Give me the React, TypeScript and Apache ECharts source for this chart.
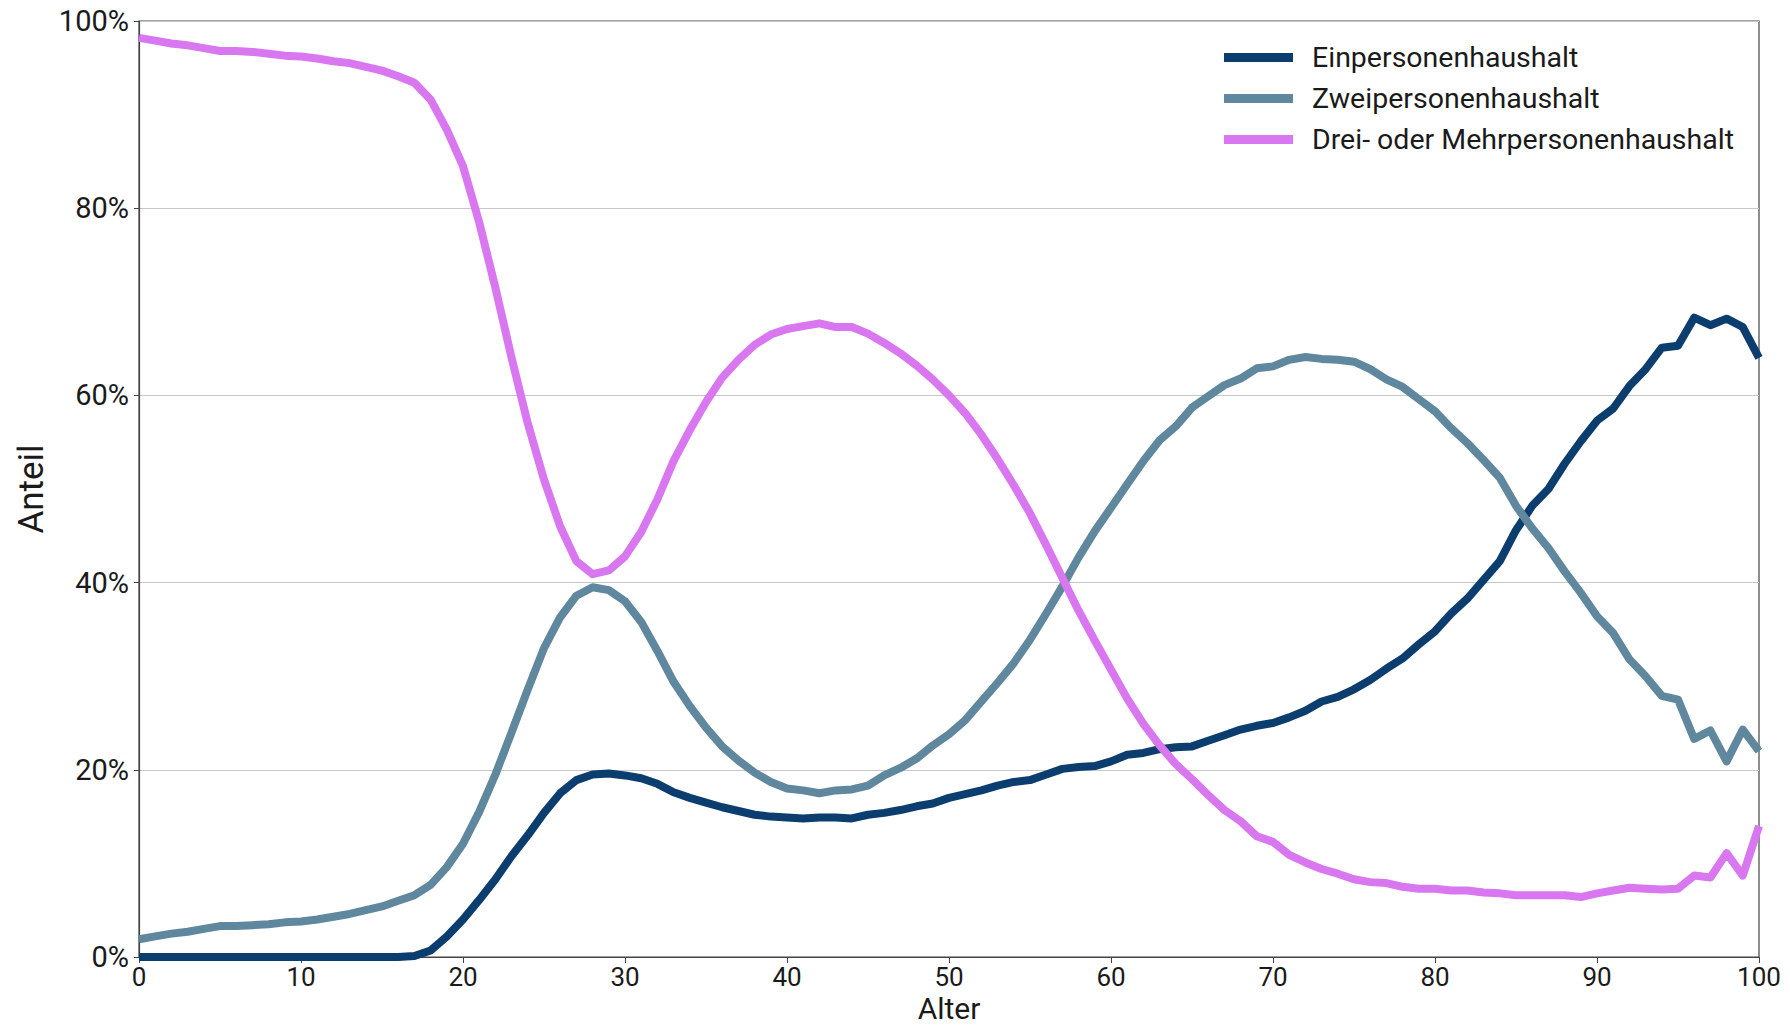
import React, { useEffect, useRef } from "react";
import * as echarts from "echarts";

const ages: number[] = Array.from({ length: 101 }, (_, i) => i);

const seriesNames = [
  "Einpersonenhaushalt",
  "Zweipersonenhaushalt",
  "Drei- oder Mehrpersonenhaushalt",
];

const einpersonen: number[] = [
  0, 0, 0, 0, 0, 0, 0, 0, 0, 0,
  0, 0, 0, 0, 0, 0, 0, 0.1, 0.7, 2.2,
  4.0, 6.1, 8.3, 10.8, 13.0, 15.4, 17.5, 18.9, 19.5, 19.6,
  19.4, 19.1, 18.5, 17.6, 17.0, 16.5, 16.0, 15.6, 15.2, 15.0,
  14.9, 14.8, 14.9, 14.9, 14.8, 15.2, 15.4, 15.7, 16.1, 16.4,
  17.0, 17.4, 17.8, 18.3, 18.7, 18.9, 19.5, 20.1, 20.3, 20.4,
  20.9, 21.6, 21.8, 22.2, 22.4, 22.5, 23.1, 23.7, 24.3, 24.7,
  25.0, 25.6, 26.3, 27.3, 27.8, 28.6, 29.6, 30.8, 31.9, 33.4,
  34.8, 36.7, 38.3, 40.3, 42.3, 45.6, 48.2, 50.0, 52.7, 55.1,
  57.3, 58.6, 61.0, 62.8, 65.1, 65.3, 68.3, 67.5, 68.2, 67.3,
  64.0,
];

const zweipersonen: number[] = [
  1.9, 2.2, 2.5, 2.7, 3.0, 3.3, 3.3, 3.4, 3.5, 3.7,
  3.8, 4.0, 4.3, 4.6, 5.0, 5.4, 6.0, 6.6, 7.7, 9.6,
  12.1, 15.5, 19.5, 24.0, 28.6, 33.0, 36.3, 38.6, 39.5, 39.2,
  38.0, 35.8, 32.7, 29.4, 26.8, 24.5, 22.5, 21.0, 19.7, 18.7,
  18.0, 17.8, 17.5, 17.8, 17.9, 18.3, 19.4, 20.2, 21.2, 22.6,
  23.8, 25.3, 27.3, 29.3, 31.4, 33.9, 36.7, 39.6, 42.7, 45.5,
  48.0, 50.5, 53.0, 55.2, 56.7, 58.7, 59.9, 61.1, 61.8, 62.9,
  63.1, 63.8, 64.1, 63.9, 63.8, 63.6, 62.8, 61.7, 60.9, 59.6,
  58.3, 56.5, 54.9, 53.1, 51.2, 48.2, 45.8, 43.7, 41.2, 38.9,
  36.4, 34.6, 31.8, 30.0, 27.9, 27.5, 23.3, 24.2, 20.9, 24.3,
  22.0,
];

const dreiMehr: number[] = [
  98.2, 97.9, 97.6, 97.4, 97.1, 96.8, 96.8, 96.7, 96.5, 96.3,
  96.2, 96.0, 95.7, 95.5, 95.1, 94.7, 94.1, 93.4, 91.6, 88.4,
  84.5, 78.5, 71.5, 64.0, 57.0, 51.0, 46.0, 42.3, 40.9, 41.3,
  42.8, 45.4, 48.9, 53.0, 56.3, 59.3, 61.9, 63.8, 65.4, 66.5,
  67.1, 67.4, 67.7, 67.3, 67.3, 66.6, 65.6, 64.5, 63.2, 61.7,
  60.0, 58.1, 55.8, 53.2, 50.4, 47.4, 44.0, 40.5, 37.0, 33.8,
  30.7, 27.6, 24.9, 22.6, 20.6, 19.0, 17.3, 15.7, 14.5, 12.9,
  12.3, 10.9, 10.1, 9.4, 8.9, 8.3, 8.0, 7.9, 7.5, 7.3,
  7.3, 7.1, 7.1, 6.9, 6.8, 6.6, 6.6, 6.6, 6.6, 6.4,
  6.8, 7.1, 7.4, 7.3, 7.2, 7.3, 8.7, 8.5, 11.1, 8.7,
  14.0,
];

const colors = ["#0b3e6f", "#5f879e", "#d877ef"];
const FONT = "Roboto, 'Liberation Sans', sans-serif";

export default function App() {
  const ref = useRef<HTMLDivElement>(null);

  useEffect(() => {
    if (!ref.current) return;
    const chart = echarts.init(ref.current, undefined, { renderer: "svg" });
    const allData = [einpersonen, zweipersonen, dreiMehr];
    chart.setOption({
      animation: false,
      backgroundColor: "#ffffff",
      textStyle: { fontFamily: FONT },
      grid: {
        left: 139,
        right: 31,
        top: 21,
        bottom: 71,
        containLabel: false,
        outerBoundsMode: "none",
        show: true,
        borderColor: "#444444",
        borderWidth: 1.2,
        backgroundColor: "transparent",
      },
      legend: {
        orient: "vertical",
        left: 1224,
        top: 43,
        padding: 0,
        icon: "rect",
        itemWidth: 69,
        itemHeight: 9,
        itemGap: 12,
        textStyle: { fontFamily: FONT, fontSize: 28.5, color: "#1a1a1a", padding: [0, 0, 0, 14] },
        data: seriesNames,
      },
      xAxis: {
        type: "value",
        min: 0,
        max: 100,
        interval: 10,
        name: "Alter",
        nameLocation: "middle",
        nameGap: 36,
        nameMoveOverlap: false,
        nameTextStyle: { fontFamily: FONT, fontSize: 30, lineHeight: 30, color: "#1a1a1a" },
        axisLine: { show: true, lineStyle: { color: "#444444", width: 1.2 } },
        axisTick: { show: true, length: 6, lineStyle: { color: "#444444" } },
        axisLabel: { fontFamily: FONT, fontSize: 26, lineHeight: 26, color: "#1a1a1a", margin: 7 },
        splitLine: { show: false },
      },
      yAxis: {
        type: "value",
        min: 0,
        max: 100,
        interval: 20,
        name: "Anteil",
        nameLocation: "middle",
        nameGap: 90,
        nameMoveOverlap: false,
        nameTextStyle: { fontFamily: FONT, fontSize: 35, color: "#1a1a1a" },
        axisLine: { show: true, lineStyle: { color: "#444444", width: 1.2 } },
        axisTick: { show: true, length: 5, lineStyle: { color: "#444444" } },
        axisLabel: {
          fontFamily: FONT,
          fontSize: 29,
          color: "#1a1a1a",
          margin: 10,
          formatter: (v: number) => `${v}%`,
        },
        splitLine: { show: true, lineStyle: { color: "#c8c8c8", width: 1.2 } },
      },
      series: seriesNames.map((name, i) => ({
        name,
        type: "line",
        data: ages.map((a, j) => [a, allData[i][j]]),
        showSymbol: false,
        symbol: "none",
        color: colors[i],
        lineStyle: { width: 8, color: colors[i], join: "round" },
        z: 3 + i,
      })),
    });
    return () => chart.dispose();
  }, []);

  return (
    <div
      ref={ref}
      style={{ position: "fixed", left: 0, top: 0, width: 1790, height: 1028 }}
    />
  );
}
